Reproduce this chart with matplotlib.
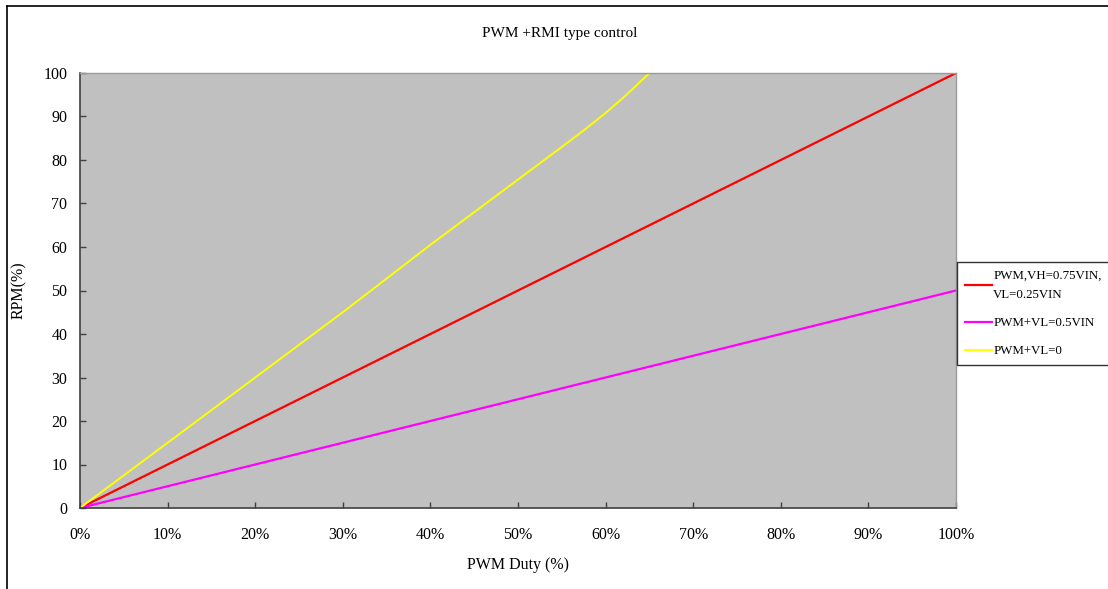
import matplotlib
matplotlib.use("Agg")
import matplotlib.pyplot as plt
from matplotlib.lines import Line2D
from matplotlib.ticker import FixedLocator

plt.rcParams['font.family'] = ['Liberation Serif', 'DejaVu Serif']

# data
duty = [0, 10, 20, 30, 40, 50, 60, 70, 80, 90, 100]
rpm_vh075 = [0, 10, 20, 30, 40, 50, 60, 70, 80, 90, 100]
rpm_vl05 = [0, 5, 10, 15, 20, 25, 30, 35, 40, 45, 50]
duty_vl0 = [0, 10, 20, 30, 40, 50, 55, 57.5, 60, 62.5, 65]
rpm_vl0 = [0, 15, 30, 45, 60.5, 75.5, 83, 86.8, 90.8, 95.2, 100]

labels = ["PWM,VH=0.75VIN,\nVL=0.25VIN", "PWM+VL=0.5VIN", "PWM+VL=0"]
xticks = [0, 10, 20, 30, 40, 50, 60, 70, 80, 90, 100]
yticks = [0, 10, 20, 30, 40, 50, 60, 70, 80, 90, 100]

W, H = 1108, 589
fig = plt.figure(figsize=(W / 100, H / 100), dpi=100)
ax = fig.add_axes([80 / W, (H - 508) / H, 876 / W, 435 / H])
ax.set_facecolor("#c0c0c0")

# outer chart frame (left and top edges visible)
fig.add_artist(Line2D([7 / W, 7 / W], [0, 1 - 6 / H], transform=fig.transFigure, color="black", lw=1.2))
fig.add_artist(Line2D([7 / W, 1], [1 - 6 / H, 1 - 6 / H], transform=fig.transFigure, color="black", lw=1.2))

l1, = ax.plot(duty, rpm_vh075, color="#ff0000", lw=1.6)
l2, = ax.plot(duty, rpm_vl05, color="#ff00ff", lw=1.6)
l3, = ax.plot(duty_vl0, rpm_vl0, color="#ffff00", lw=1.4)

ax.set_xlim(0, 100)
ax.set_ylim(0, 100)
ax.xaxis.set_major_locator(FixedLocator(xticks))
ax.yaxis.set_major_locator(FixedLocator(yticks))
ax.set_xticklabels([str(t) + "%" for t in xticks])
ax.set_yticklabels([str(t) for t in yticks])
ax.tick_params(axis="x", direction="in", length=4, width=1, color="#404040", pad=14, labelsize=11.5)
ax.tick_params(axis="y", direction="in", length=4, width=1, color="#404040", pad=9, labelsize=11.5)

for s in ["left", "bottom"]:
    ax.spines[s].set_color("#404040")
    ax.spines[s].set_linewidth(1.2)
for s in ["top", "right"]:
    ax.spines[s].set_color("#9a9a9a")
    ax.spines[s].set_linewidth(1.0)

ax.set_title("PWM +RMI type control", fontsize=11, pad=26, x=(560 - 80) / 876)
ax.set_xlabel("PWM Duty (%)", fontsize=11.5, labelpad=10)
ax.set_ylabel("RPM(%)", fontsize=11.5, labelpad=12)

leg = fig.legend([l1, l2, l3], labels, loc="upper left",
                 bbox_to_anchor=(957 / W, 1 - 262 / H), fontsize=9.3,
                 frameon=True, fancybox=False, edgecolor="black",
                 handlelength=2.1, handletextpad=0.1, labelspacing=1.25,
                 borderpad=0.6, borderaxespad=0)
leg.get_frame().set_linewidth(1.0)
for t in leg.get_texts():
    t.set_linespacing(1.8)

fig.savefig("out.png", dpi=100)
